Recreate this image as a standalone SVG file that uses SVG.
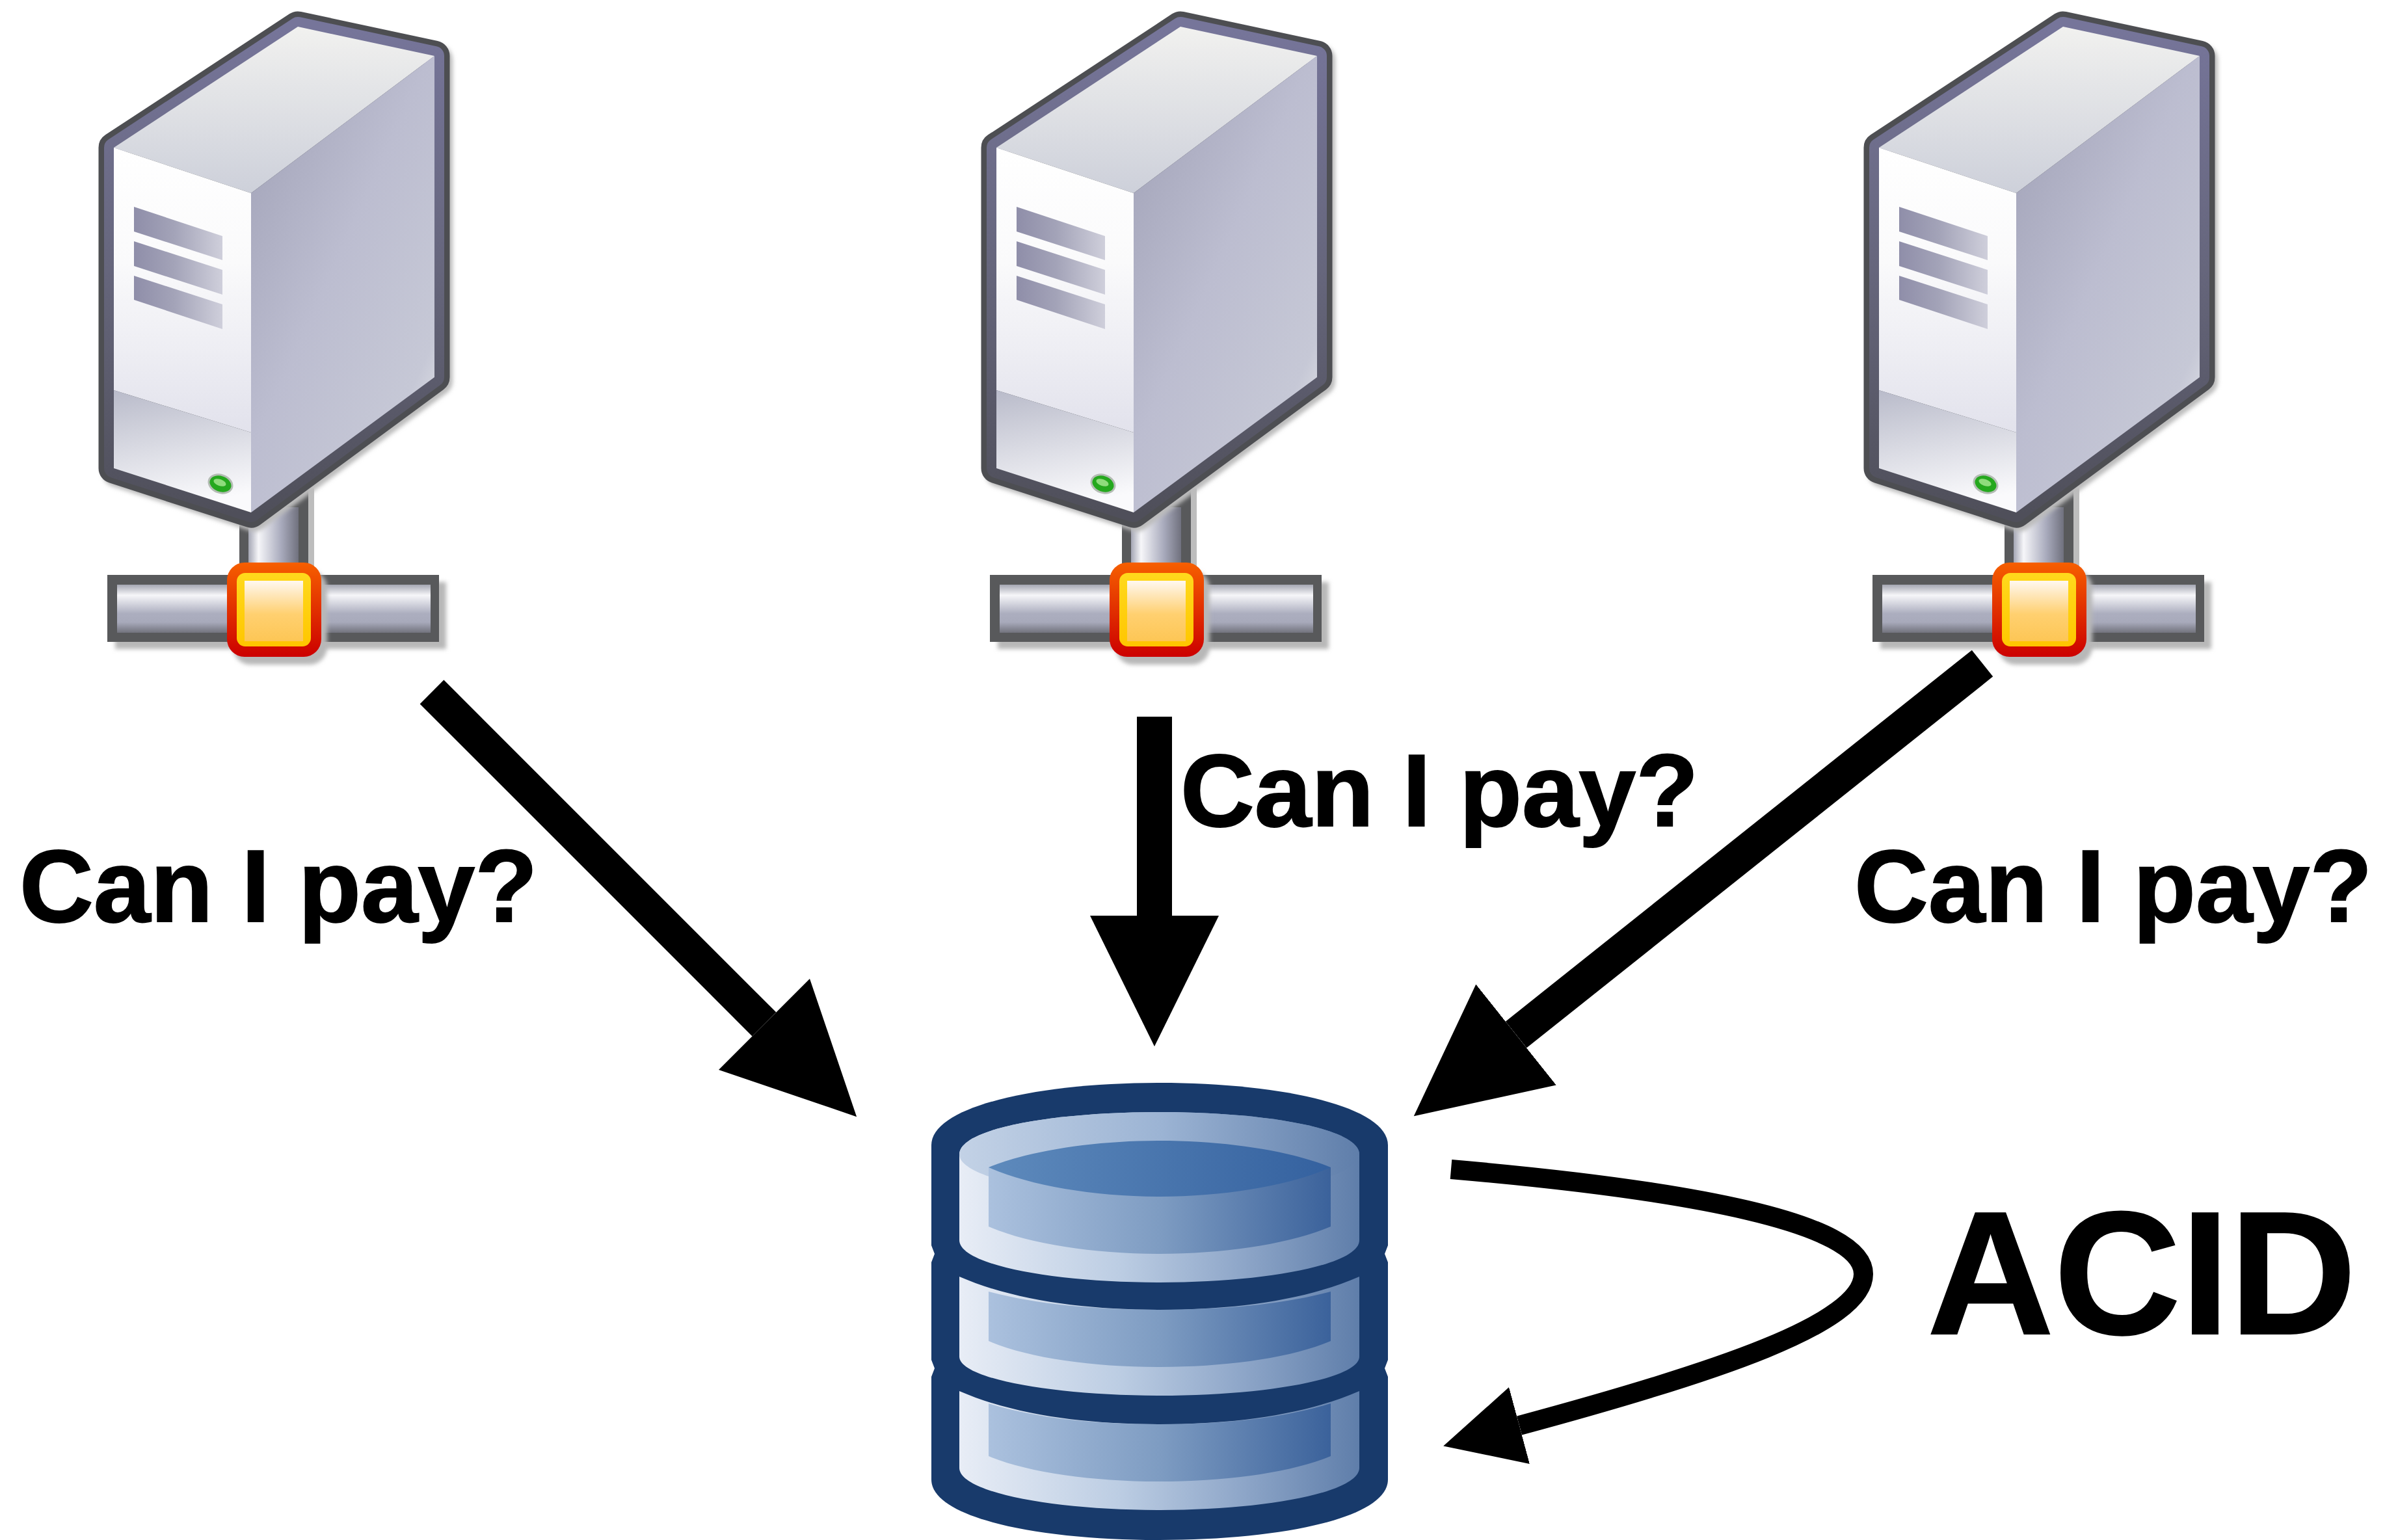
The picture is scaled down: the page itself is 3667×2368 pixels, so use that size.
<svg xmlns="http://www.w3.org/2000/svg" xmlns:xlink="http://www.w3.org/1999/xlink" width="3667" height="2368" viewBox="0 0 3667 2368">
<style>
.lbl{font-family:"Liberation Sans",Arial,Helvetica,sans-serif;font-weight:700;fill:#000;stroke:#000;stroke-width:2;font-size:157.5px}
.acid{font-size:270px}
.conn{fill:none;stroke:#000}
.dark{fill:#183a6b}
.ring{fill:url(#dbRing)}
.panel{fill:url(#dbPanel)}
</style>
<defs>
<filter id="soft" x="-10%" y="-10%" width="120%" height="120%"><feGaussianBlur stdDeviation="3"/></filter>
<marker id="headBig" markerUnits="userSpaceOnUse" markerWidth="202" markerHeight="200" refX="0" refY="100" orient="auto" viewBox="0 0 202 200"><path d="M0,1 L201,100 L0,199 Z" fill="#000"/></marker>
<marker id="headSmall" markerUnits="userSpaceOnUse" markerWidth="122" markerHeight="124" refX="0" refY="62" orient="auto" viewBox="0 0 122 124"><path d="M0,1 L121,62 L0,123 Z" fill="#000"/></marker>
<linearGradient id="topFace" x1="0" y1="0" x2="0" y2="1"><stop offset="0" stop-color="#f1f1ef"/><stop offset="1" stop-color="#cdd0da"/></linearGradient>
<linearGradient id="sideFace" x1="0.1" y1="0.05" x2="0.9" y2="0.95"><stop offset="0" stop-color="#a3a4b9"/><stop offset="0.45" stop-color="#bcbdd0"/><stop offset="0.85" stop-color="#c6c8d6"/><stop offset="1" stop-color="#e2e3e8"/></linearGradient>
<linearGradient id="frontFace" x1="0" y1="0" x2="0" y2="1"><stop offset="0" stop-color="#ffffff"/><stop offset="0.4" stop-color="#fafafb"/><stop offset="1" stop-color="#e2e2ec"/></linearGradient>
<linearGradient id="lowFace" x1="0" y1="0" x2="0.2" y2="1"><stop offset="0" stop-color="#b9bbca"/><stop offset="1" stop-color="#fafafc"/></linearGradient>
<linearGradient id="frame" x1="0" y1="0" x2="0" y2="1"><stop offset="0" stop-color="#76759a"/><stop offset="0.5" stop-color="#66667c"/><stop offset="1" stop-color="#4f4f5a"/></linearGradient>
<linearGradient id="vent" x1="0" y1="0" x2="1" y2="0"><stop offset="0" stop-color="#8f8ea9"/><stop offset="0.45" stop-color="#a3a3b8"/><stop offset="1" stop-color="#cfcfdb"/></linearGradient>
<linearGradient id="stemG" x1="0" y1="0" x2="1" y2="0"><stop offset="0" stop-color="#a4a6b4"/><stop offset="0.2" stop-color="#f6f6f9"/><stop offset="0.65" stop-color="#a9abbd"/><stop offset="1" stop-color="#70717e"/></linearGradient>
<linearGradient id="barG" x1="0" y1="0" x2="0" y2="1"><stop offset="0" stop-color="#a4a6b2"/><stop offset="0.22" stop-color="#f6f6f9"/><stop offset="0.6" stop-color="#acaebf"/><stop offset="0.78" stop-color="#a8aabb"/><stop offset="1" stop-color="#72737d"/></linearGradient>
<linearGradient id="boxO" x1="0" y1="0" x2="0" y2="1"><stop offset="0" stop-color="#f65f00"/><stop offset="1" stop-color="#cc0000"/></linearGradient>
<linearGradient id="boxY" x1="0" y1="0" x2="0" y2="1"><stop offset="0" stop-color="#ffd91c"/><stop offset="1" stop-color="#ffc600"/></linearGradient>
<linearGradient id="boxI" x1="0" y1="0" x2="0" y2="1"><stop offset="0" stop-color="#fff8f0"/><stop offset="0.55" stop-color="#ffd070"/><stop offset="1" stop-color="#fdc655"/></linearGradient>
<linearGradient id="dbRing" gradientUnits="userSpaceOnUse" x1="1475" y1="0" x2="2090" y2="0"><stop offset="0" stop-color="#e8edf6"/><stop offset="0.4" stop-color="#bccde3"/><stop offset="0.7" stop-color="#8fa7c9"/><stop offset="1" stop-color="#5f7eaa"/></linearGradient>
<linearGradient id="dbRim" gradientUnits="userSpaceOnUse" x1="1475" y1="0" x2="2090" y2="0"><stop offset="0" stop-color="#c3d2e6"/><stop offset="0.5" stop-color="#9cb4d4"/><stop offset="1" stop-color="#5f7eaa"/></linearGradient>
<linearGradient id="dbPanel" gradientUnits="userSpaceOnUse" x1="1520" y1="0" x2="2046" y2="0"><stop offset="0" stop-color="#abc1de"/><stop offset="0.5" stop-color="#7e9cc2"/><stop offset="1" stop-color="#3b629b"/></linearGradient>
<linearGradient id="dbLens" gradientUnits="userSpaceOnUse" x1="1520" y1="0" x2="2046" y2="0"><stop offset="0" stop-color="#5e8abc"/><stop offset="1" stop-color="#34619f"/></linearGradient>
<g id="serverIcon">
<rect x="380" y="751" width="103" height="125" fill="#bdbdbd"/>
<rect x="368" y="751" width="106" height="135" fill="#58595b"/>
<rect x="382" y="780" width="77" height="105" fill="url(#stemG)"/>
<path d="M458,41 L668,86 L668,580 L386,788 L175,720 L175,227 Z" fill="#bcbcbc" stroke="#bcbcbc" stroke-width="46" stroke-linejoin="round" transform="translate(5,6)" filter="url(#soft)"/>
<path d="M458,41 L668,86 L668,580 L386,788 L175,720 L175,227 Z" fill="#4d4e52" stroke="#4d4e52" stroke-width="47" stroke-linejoin="round"/>
<path d="M458,41 L668,86 L668,580 L386,788 L175,720 L175,227 Z" fill="none" stroke="url(#frame)" stroke-width="30" stroke-linejoin="round"/>
<path d="M458,41 L668,86 L386,297 L175,227 Z" fill="url(#topFace)"/>
<path d="M668,86 L668,580 L386,788 L386,297 Z" fill="url(#sideFace)"/>
<path d="M175,227 L386,297 L386,665 L175,600 Z" fill="url(#frontFace)"/>
<path d="M175,600 L386,665 L386,788 L175,720 Z" fill="url(#lowFace)"/>
<path d="M206,318 L342,363 L342,400 L206,356 Z" fill="url(#vent)"/>
<path d="M206,371 L342,415 L342,453 L206,409 Z" fill="url(#vent)"/>
<path d="M206,424 L342,468 L342,506 L206,461 Z" fill="url(#vent)"/>
<ellipse cx="339" cy="744" rx="20" ry="15" transform="rotate(20 339 744)" fill="#b4bcb4"/>
<ellipse cx="339" cy="744" rx="17" ry="12" transform="rotate(20 339 744)" fill="#25a81e"/>
<ellipse cx="338" cy="742" rx="10" ry="5" transform="rotate(20 338 742)" fill="#8fdc7c"/>
<rect x="177" y="895" width="509" height="103" fill="#b8b8b8" filter="url(#soft)"/>
<rect x="165" y="884" width="510" height="103" fill="#58595b"/>
<rect x="180" y="899" width="482" height="74" fill="url(#barG)"/>
<rect x="358" y="877" width="145" height="145" rx="27" fill="#b8b8b8" filter="url(#soft)"/>
<rect x="349" y="865" width="145" height="145" rx="27" fill="url(#boxO)"/>
<rect x="364" y="881" width="114" height="113" rx="13" fill="url(#boxY)"/>
<rect x="376" y="893" width="90" height="93" fill="url(#boxI)"/>
</g>
</defs>
<rect width="3667" height="2368" fill="#fff"/>
<g id="server-left"><use href="#serverIcon" xlink:href="#serverIcon"/></g>
<g id="server-middle"><use href="#serverIcon" xlink:href="#serverIcon" x="1357"/></g>
<g id="server-right"><use href="#serverIcon" xlink:href="#serverIcon" x="2714"/></g>
<g id="database">
<path class="dark" d="M1432,1761 C1432,1700 1600,1665 1783,1665 C1966,1665 2134,1700 2134,1761 L2134,2275 C2134,2335 1966,2368 1783,2368 C1600,2368 1432,2335 1432,2275 Z"/>
<path fill="#fff" d="M1432,1915 L1437,1928 L1432,1941 Z M1432,2091 L1437,2104 L1432,2117 Z M2134,1915 L2129,1928 L2134,1941 Z M2134,2091 L2129,2104 L2134,2117 Z"/>
<path class="ring" d="M1475,1775 C1475,1735 1620,1710 1783,1710 C1946,1710 2090,1735 2090,1775 L2090,1907 C2090,1945 1946,1972 1783,1972 C1620,1972 1475,1945 1475,1907 Z"/>
<path fill="url(#dbRim)" d="M1475,1775 C1475,1735 1620,1710 1783,1710 C1946,1710 2090,1735 2090,1775 C2090,1812 1946,1840 1783,1840 C1620,1840 1475,1812 1475,1775 Z"/>
<path class="panel" d="M1520,1795 L2046,1795 L2046,1886 C1986,1912 1886,1928 1783,1928 C1680,1928 1580,1912 1520,1886 Z"/>
<path fill="url(#dbLens)" d="M1520,1795 C1580,1770 1680,1754 1783,1754 C1886,1754 1986,1770 2046,1795 C1986,1822 1886,1840 1783,1840 C1680,1840 1580,1822 1520,1795 Z"/>
<path class="ring" d="M1475,1963 C1560,2000 1670,2014 1783,2014 C1896,2014 2005,2000 2090,1963 L2090,2086 C2090,2120 1946,2146 1783,2146 C1620,2146 1475,2120 1475,2086 Z"/>
<path class="panel" d="M1520,1986 C1590,2005 1680,2014 1783,2014 C1886,2014 1976,2005 2046,1986 L2046,2062 C1986,2088 1886,2102 1783,2102 C1680,2102 1580,2088 1520,2062 Z"/>
<path class="ring" d="M1475,2139 C1560,2176 1670,2190 1783,2190 C1896,2190 2005,2176 2090,2139 L2090,2257 C2090,2295 1946,2322 1783,2322 C1620,2322 1475,2295 1475,2257 Z"/>
<path class="panel" d="M1520,2158 C1590,2180 1680,2190 1783,2190 C1886,2190 1976,2180 2046,2158 L2046,2239 C1986,2264 1886,2278 1783,2278 C1680,2278 1580,2264 1520,2239 Z"/>
</g>
<g id="connectors">
<line class="conn" x1="664" y1="1064" x2="1175" y2="1575" stroke-width="52" marker-end="url(#headBig)"/>
<line class="conn" x1="1775" y1="1102" x2="1775" y2="1408" stroke-width="54" marker-end="url(#headBig)"/>
<line class="conn" x1="3048" y1="1020" x2="2331" y2="1591" stroke-width="52" marker-end="url(#headBig)"/>
<path class="conn" d="M2231,1798 C2600,1830 2865,1880 2865,1959 C2865,2035 2640,2110 2336,2192" stroke-width="30" marker-end="url(#headSmall)"/>
</g>
<g id="labels">
<text class="lbl" x="30" y="1417">Can I pay?</text>
<text class="lbl" x="1815" y="1270">Can I pay?</text>
<text class="lbl" x="2851" y="1417">Can I pay?</text>
<text class="lbl acid" x="2963" y="2051">ACID</text>
</g>
</svg>
